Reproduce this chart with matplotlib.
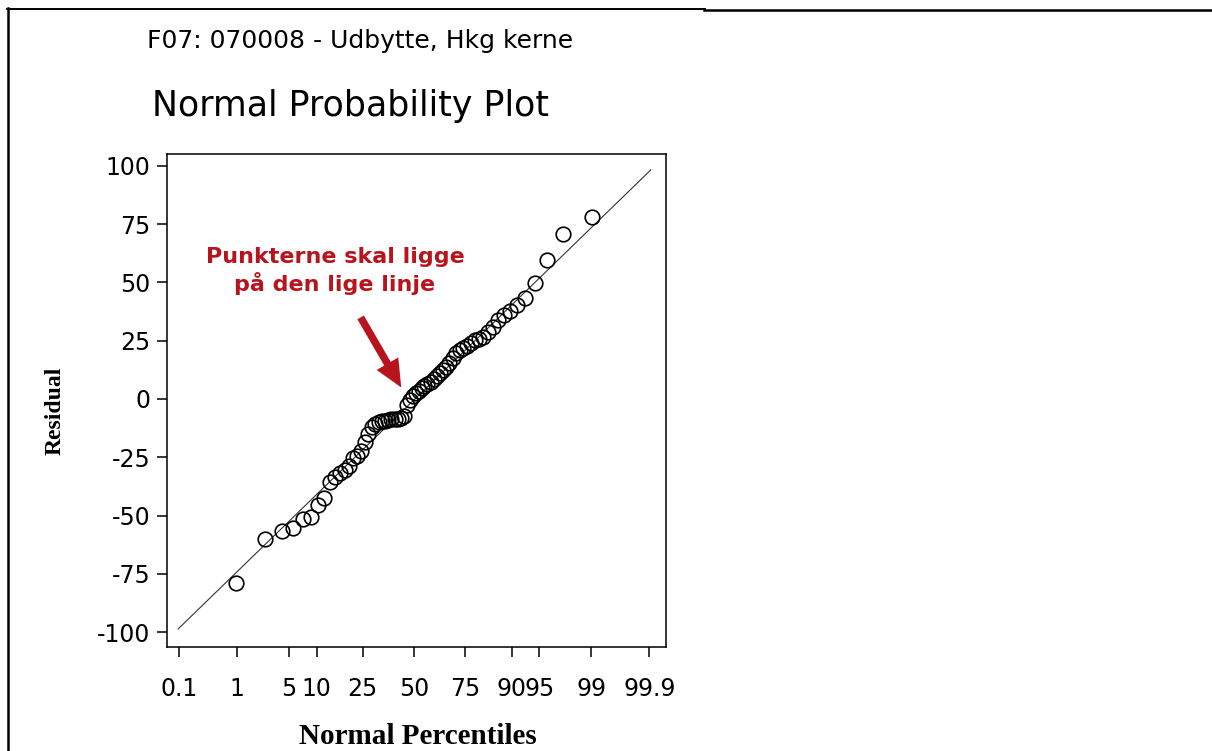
import matplotlib
matplotlib.use('Agg')
import matplotlib.pyplot as plt
from matplotlib.lines import Line2D
from statistics import NormalDist

W, H = 1212, 751

# normal scores (x, in z units) and residuals
normal_scores = [-2.336, -1.955, -1.741, -1.585, -1.461, -1.356, -1.264, -1.181,
                 -1.107, -1.037, -0.973, -0.912, -0.854, -0.799, -0.746, -0.696,
                 -0.647, -0.600, -0.554, -0.509, -0.465, -0.422, -0.380, -0.338,
                 -0.297, -0.256, -0.216, -0.176, -0.137, -0.098, -0.059, -0.020,
                 0.020, 0.059, 0.098, 0.137, 0.176, 0.216, 0.256, 0.297,
                 0.338, 0.380, 0.422, 0.465, 0.509, 0.554, 0.600, 0.647,
                 0.696, 0.746, 0.799, 0.854, 0.912, 0.973, 1.037, 1.107,
                 1.181, 1.264, 1.356, 1.461, 1.585, 1.741, 1.955, 2.336]
residuals = [-78.9, -60.0, -56.6, -55.1, -51.5, -50.4, -45.5, -42.5,
             -35.6, -33.4, -31.7, -30.4, -28.7, -25.3, -24.4, -22.3,
             -18.4, -15.0, -12.0, -10.7, -9.9, -9.4, -9.4, -9.0,
             -8.6, -8.6, -8.6, -8.1, -7.3, -2.6, -0.4, 1.3,
             2.6, 3.4, 4.7, 5.6, 6.4, 7.3, 8.6, 9.9,
             11.1, 12.4, 13.7, 15.4, 17.6, 19.7, 21.0, 21.9,
             22.7, 24.0, 25.3, 25.7, 26.6, 28.7, 30.9, 33.9,
             36.0, 37.7, 40.3, 43.3, 49.7, 59.6, 70.8, 78.0]

# reference line end points
ref_x = [-3.10, 3.11]
ref_y = [-98.6, 98.2]

pct_ticks = [0.1, 1, 5, 10, 25, 50, 75, 90, 95, 99, 99.9]
pct_labels = ['0.1', '1', '5', '10', '25', '50', '75', '90', '95', '99', '99.9']
y_ticks = [100, 75, 50, 25, 0, -25, -50, -75, -100]
y_labels = ['100', '75', '50', '25', '0', '-25', '-50', '-75', '-100']

RED = '#B8141E'

def fx(px):
    return px / W

def fy(py):
    return 1 - py / H

fig = plt.figure(figsize=(W / 100, H / 100), dpi=100)
ax = fig.add_axes([fx(166.7), fy(646.7), (666 - 166.7) / W, (646.7 - 154.3) / H])

ax.plot(ref_x, ref_y, color='#333333', lw=0.8, zorder=2)
ax.plot(normal_scores, residuals, 'o', mfc='none', mec='black', ms=10.5, mew=1.2, zorder=3)

nd = NormalDist()
ax.set_xticks([nd.inv_cdf(p / 100) for p in pct_ticks])
ax.set_xticklabels(pct_labels, fontsize=17, family='DejaVu Sans')
ax.set_yticks(y_ticks)
ax.set_yticklabels(y_labels, fontsize=17, family='DejaVu Sans')
ax.set_xlim(-3.25, 3.31)
ax.set_ylim(-106.2, 104.9)

for s in ax.spines.values():
    s.set_linewidth(1.1)
ax.tick_params(axis='both', direction='out', length=7.5, width=1.1)
ax.tick_params(axis='x', pad=14)
ax.tick_params(axis='y', pad=4)

# annotation
ax.annotate('', xy=(-0.15, 3.9), xytext=(-0.72, 36.0),
            arrowprops=dict(arrowstyle='simple,head_length=1.1,head_width=1.0,tail_width=0.3',
                            mutation_scale=18, color=RED, lw=0))
fig.text(fx(335), fy(271), 'Punkterne skal ligge\npå den lige linje', color=RED,
         fontsize=16, fontweight='bold', family='DejaVu Sans',
         ha='center', va='center', linespacing=1.3)

# titles and axis labels
fig.text(fx(360), fy(41), 'F07: 070008 - Udbytte, Hkg kerne', fontsize=18,
         family='DejaVu Sans', ha='center', va='center')
fig.text(fx(350), fy(106), 'Normal Probability Plot', fontsize=25,
         family='DejaVu Sans', ha='center', va='center')
fig.text(fx(418), fy(737), 'Normal Percentiles', fontsize=21, fontweight='bold',
         family='Liberation Serif', ha='center', va='center')
fig.text(fx(55), fy(411), 'Residual', fontsize=17, fontweight='bold',
         family='Liberation Serif', ha='center', va='center', rotation=90)

# table cell borders
fig.add_artist(Line2D([fx(8), fx(8)], [fy(8), fy(751)], color='black', lw=1.8))
fig.add_artist(Line2D([fx(7), fx(705)], [fy(9), fy(9)], color='black', lw=1.4))
fig.add_artist(Line2D([fx(704), fx(1212)], [fy(10.3), fy(10.3)], color='black', lw=1.8))

fig.savefig('out.png', dpi=100)
